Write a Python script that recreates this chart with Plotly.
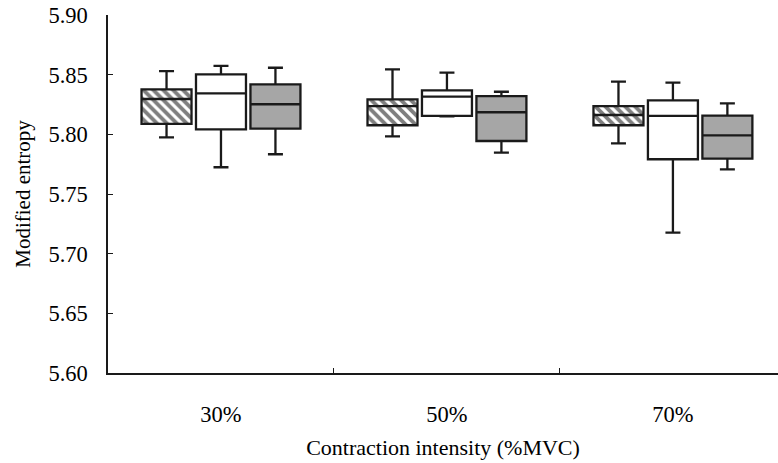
import plotly.graph_objects as go

categories = ["30%", "50%", "70%"]

# Series A (hatched)
a_low = [5.7975, 5.7983, 5.7925]
a_q1 = [5.8087, 5.8076, 5.8076]
a_med = [5.8296, 5.8237, 5.8162]
a_q3 = [5.8377, 5.8293, 5.8237]
a_high = [5.8530, 5.8545, 5.8441]

# Series B (white)
b_low = [5.7724, 5.8150, 5.7176]
b_q1 = [5.8042, 5.8154, 5.7791]
b_med = [5.8344, 5.8316, 5.8154]
b_q3 = [5.8503, 5.8369, 5.8285]
b_high = [5.8573, 5.8517, 5.8433]

# Series C (grey)
c_low = [5.7833, 5.7846, 5.7707]
c_q1 = [5.8047, 5.7944, 5.7796]
c_med = [5.8252, 5.8185, 5.7992]
c_q3 = [5.8419, 5.8321, 5.8156]
c_high = [5.8558, 5.8357, 5.8260]

BOXGAP = 0.277
BOXGROUPGAP = 0.082
n_series = 3
slot = (1 - BOXGAP) / n_series
box_w = slot * (1 - BOXGROUPGAP)

LINE = "#1a1a1a"
FONT = "Times New Roman, Liberation Serif"

fig = go.Figure()

# hatched body for series A (drawn beneath the box outlines)
fig.add_trace(go.Bar(
    x=categories,
    y=[h - l for h, l in zip(a_q3, a_q1)],
    base=a_q1,
    width=[box_w] * len(categories),
    offset=[-slot - box_w / 2] * len(categories),
    marker=dict(color="white", line=dict(width=0),
                pattern=dict(shape="\\", fgcolor="black", bgcolor="white",
                             size=7, solidity=0.55)),
    hoverinfo="skip", showlegend=False,
))

series = [
    (a_low, a_q1, a_med, a_q3, a_high, "rgba(0,0,0,0)"),
    (b_low, b_q1, b_med, b_q3, b_high, "white"),
    (c_low, c_q1, c_med, c_q3, c_high, "#a6a6a6"),
]
for i, (lo, q1, md, q3, hi, fill) in enumerate(series):
    fig.add_trace(go.Box(
        x=categories, q1=q1, median=md, q3=q3,
        lowerfence=lo, upperfence=hi,
        fillcolor=fill, line=dict(color=LINE, width=2.3),
        whiskerwidth=0.3, boxpoints=False,
        offsetgroup=str(i), showlegend=False, hoverinfo="skip",
    ))

fig.update_layout(
    width=778, height=463,
    margin=dict(l=108, r=0, t=15, b=90),
    paper_bgcolor="white", plot_bgcolor="white",
    boxmode="group", boxgap=BOXGAP, boxgroupgap=BOXGROUPGAP,
    font=dict(family=FONT, color="black", size=22),
    showlegend=False,
)
fig.update_xaxes(
    type="category", range=[-0.5, 2.465],
    showline=True, linecolor=LINE, linewidth=1.5,
    ticks="inside", tickson="boundaries", ticklen=5, tickcolor=LINE,
    showgrid=False, zeroline=False,
    tickfont=dict(family=FONT, size=22.5), ticklabelstandoff=20,
    title=dict(text="Contraction intensity (%MVC)", font=dict(family=FONT, size=22), standoff=14),
)
fig.update_yaxes(
    range=[5.60, 5.90], dtick=0.05, tickformat=".2f",
    showline=True, linecolor=LINE, linewidth=1.5,
    ticks="inside", ticklen=5, tickcolor=LINE,
    showgrid=False, zeroline=False,
    tickfont=dict(family=FONT, size=22.5), ticklabelstandoff=14,
    title=dict(text="Modified entropy", font=dict(family=FONT, size=21), standoff=12),
)

fig.write_html("out.html")
